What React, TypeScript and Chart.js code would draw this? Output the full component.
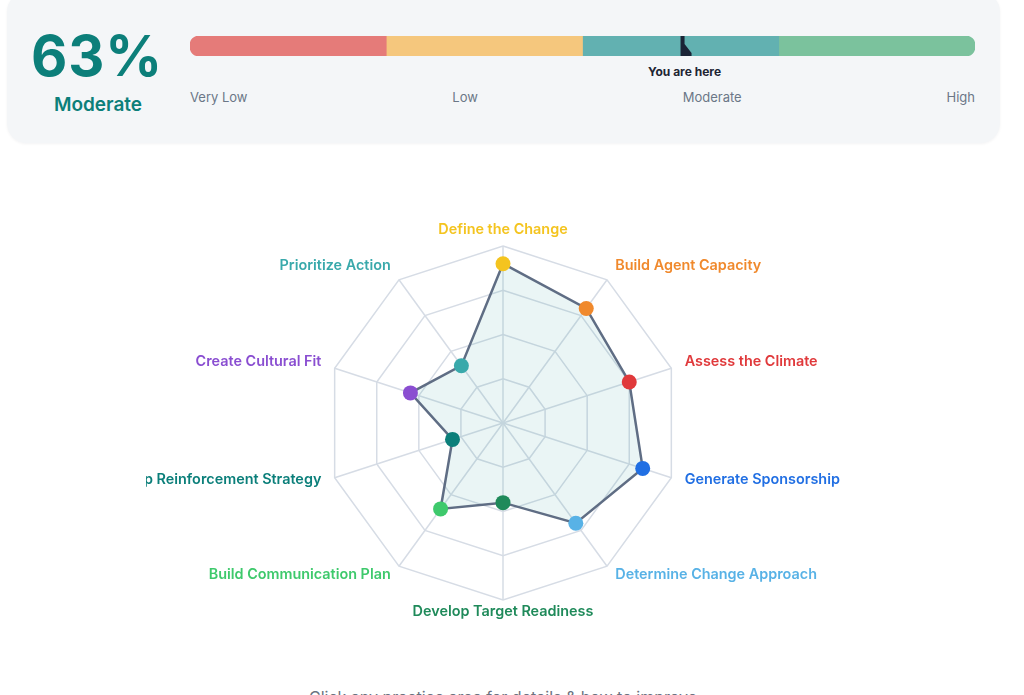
import React, { useEffect, useRef } from "react";
import { Chart, registerables } from "chart.js";

Chart.register(...registerables);

const SCORE = 63;
const SCORE_LABEL = "Moderate";
const LEVEL_LABELS = ["Very Low", "Low", "Moderate", "High"];
const LEVEL_SPANS = [25, 25, 25, 25];
const LEVEL_COLORS = ["#e57b79", "#f5c77d", "#62b1b1", "#7bc29d"];

const AREAS = [
  "Define the Change",
  "Build Agent Capacity",
  "Assess the Climate",
  "Generate Sponsorship",
  "Determine Change Approach",
  "Develop Target Readiness",
  "Build Communication Plan",
  "Develop Reinforcement Strategy",
  "Create Cultural Fit",
  "Prioritize Action",
];
const AREA_SCORES = [90, 80, 75, 83, 70, 45, 60, 30, 55, 40];
const AREA_COLORS = [
  "#f4c41f",
  "#f0892c",
  "#e0393b",
  "#216fe3",
  "#58b2e6",
  "#1f8a5a",
  "#3ec96c",
  "#0b7f7a",
  "#8a4ed1",
  "#39a9ab",
];
const RADAR_MAX = 100;
const RADAR_STEP = 25;

const FONT = "Inter, 'Noto Sans', sans-serif";

function Gauge() {
  const ref = useRef<HTMLCanvasElement | null>(null);
  useEffect(() => {
    const markerPlugin = {
      id: "marker",
      afterDatasetsDraw(chart: any) {
        const ctx = chart.ctx;
        const x = chart.scales.x.getPixelForValue(SCORE);
        const top = chart.chartArea.top;
        const bottom = chart.chartArea.bottom;
        ctx.save();
        ctx.fillStyle = "#1b2436";
        ctx.beginPath();
        ctx.moveTo(x - 4, top - 1);
        ctx.lineTo(x, top - 1);
        ctx.lineTo(x, top + 8);
        ctx.lineTo(x + 7, bottom - 3);
        ctx.lineTo(x + 7, bottom);
        ctx.lineTo(x - 4, bottom);
        ctx.closePath();
        ctx.fill();
        ctx.restore();
      },
    };
    const chart = new Chart(ref.current as HTMLCanvasElement, {
      type: "bar",
      data: {
        labels: ["score"],
        datasets: LEVEL_SPANS.map((v, i) => ({
          label: LEVEL_LABELS[i],
          data: [v],
          backgroundColor: LEVEL_COLORS[i],
          borderWidth: 0,
          borderRadius: 9,
          borderSkipped: "middle" as any,
          barPercentage: 1,
          categoryPercentage: 1,
        })),
      },
      options: {
        indexAxis: "y",
        animation: false,
        responsive: false,
        maintainAspectRatio: false,
        events: [],
        layout: { padding: 0 },
        plugins: { legend: { display: false }, tooltip: { enabled: false } },
        scales: {
          x: { stacked: true, min: 0, max: 100, display: false },
          y: { stacked: true, display: false },
        },
      },
      plugins: [markerPlugin],
    });
    return () => chart.destroy();
  }, []);
  return (
    <canvas
      ref={ref}
      width={785}
      height={20}
      style={{ position: "absolute", left: 190, top: 36, width: 785, height: 20 }}
    />
  );
}

function Radar() {
  const ref = useRef<HTMLCanvasElement | null>(null);
  useEffect(() => {
    const labelPlugin = {
      id: "areaLabels",
      afterDraw(chart: any) {
        const scale = chart.scales.r;
        const ctx = chart.ctx;
        ctx.save();
        ctx.font = `600 14.4px ${FONT}`;
        ctx.textBaseline = "middle";
        AREAS.forEach((name, i) => {
          const p = scale.getPointPosition(i, scale.drawingArea + 14);
          const dx = p.x - scale.xCenter;
          let align: CanvasTextAlign = "center";
          if (dx > 1) align = "left";
          else if (dx < -1) align = "right";
          ctx.textAlign = align;
          ctx.fillStyle = AREA_COLORS[i];
          ctx.fillText(name, p.x, p.y - 2.5);
        });
        ctx.restore();
      },
    };
    const chart = new Chart(ref.current as HTMLCanvasElement, {
      type: "radar",
      data: {
        labels: AREAS,
        datasets: [
          {
            label: "Score",
            data: AREA_SCORES,
            backgroundColor: "rgba(24,140,140,0.09)",
            borderColor: "#5f6d84",
            borderWidth: 2.5,
            fill: true,
            pointRadius: 7.5,
            pointBorderWidth: 0,
            pointBackgroundColor: AREA_COLORS,
            pointBorderColor: AREA_COLORS,
          },
        ],
      },
      options: {
        animation: false,
        responsive: false,
        maintainAspectRatio: false,
        events: [],
        layout: { padding: { top: 43, bottom: 43, left: 0, right: 0 } },
        plugins: { legend: { display: false }, tooltip: { enabled: false } },
        scales: {
          r: {
            min: 0,
            max: RADAR_MAX,
            ticks: { display: false, stepSize: RADAR_STEP },
            pointLabels: { display: false },
            grid: { color: "#d6dce5", lineWidth: 1.5, circular: false },
            angleLines: { color: "#d6dce5", lineWidth: 1.5 },
          },
        },
      },
      plugins: [labelPlugin],
    });
    return () => chart.destroy();
  }, []);
  return (
    <canvas
      ref={ref}
      width={714}
      height={440}
      style={{ position: "absolute", left: 146, top: 203, width: 714, height: 440 }}
    />
  );
}

export default function App() {
  return (
    <div
      style={{
        position: "absolute",
        left: 0,
        top: 0,
        width: 1024,
        height: 695,
        overflow: "hidden",
        background: "#ffffff",
        fontFamily: FONT,
      }}
    >
      <div
        style={{
          position: "absolute",
          left: 7,
          top: -8,
          width: 993,
          height: 151,
          borderRadius: 20,
          background: "#f4f6f8",
          boxShadow: "0 1px 3px rgba(15,23,42,0.05)",
        }}
      />
      <div
        style={{
          position: "absolute",
          left: 17,
          width: 160,
          top: 26,
          height: 60,
          lineHeight: "60px",
          textAlign: "center",
          fontSize: 56,
          fontWeight: 700,
          color: "#0c7f7a",
          letterSpacing: 0.8,
        }}
      >
        {SCORE}%
      </div>
      <div
        style={{
          position: "absolute",
          left: 18,
          width: 160,
          top: 93,
          height: 24,
          lineHeight: "24px",
          textAlign: "center",
          fontSize: 19,
          fontWeight: 600,
          color: "#0c7f7a",
        }}
      >
        {SCORE_LABEL}
      </div>
      <Gauge />
      <div
        style={{
          position: "absolute",
          left: 190 + (SCORE / 100) * 785 - 60,
          width: 120,
          top: 64,
          height: 16,
          lineHeight: "16px",
          textAlign: "center",
          fontSize: 12,
          fontWeight: 700,
          color: "#1e2533",
        }}
      >
        You are here
      </div>
      <div
        style={{
          position: "absolute",
          left: 190,
          width: 785,
          top: 89,
          height: 16,
          lineHeight: "16px",
          display: "flex",
          justifyContent: "space-between",
          fontSize: 13,
          color: "#6b7787",
        }}
      >
        {LEVEL_LABELS.map((l) => (
          <span key={l}>{l}</span>
        ))}
      </div>
      <Radar />
      <div
        style={{
          position: "absolute",
          left: 0,
          width: 1006,
          top: 685,
          height: 24,
          lineHeight: "24px",
          textAlign: "center",
          fontSize: 16,
          color: "#6b7280",
        }}
      >
        Click any practice area for details &amp; how to improve
      </div>
    </div>
  );
}
